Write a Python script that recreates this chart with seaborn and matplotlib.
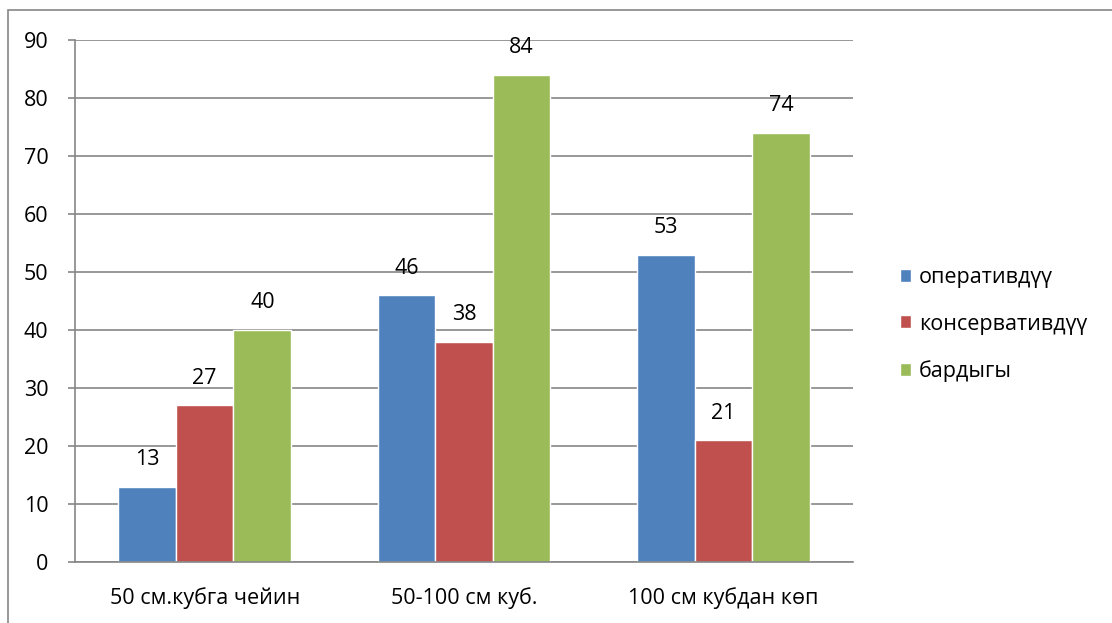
import pandas as pd
import matplotlib.pyplot as plt
import matplotlib.patches as mpatches
import seaborn as sns

# data
categories = ['50 см.кубга чейин', '50-100 см куб.', '100 см кубдан көп']
series = ['оперативдүү', 'консервативдүү', 'бардыгы']
operative = [13, 46, 53]
conservative = [27, 38, 21]
total = [40, 84, 74]
colors = ['#4F81BD', '#C0504D', '#9BBB59']

df = pd.DataFrame({
    'category': categories * 3,
    'series': [series[0]] * 3 + [series[1]] * 3 + [series[2]] * 3,
    'value': operative + conservative + total,
})

sns.set_style('white')
plt.rcParams['font.family'] = ['Open Sans', 'DejaVu Sans']
plt.rcParams['text.color'] = 'black'
plt.rcParams['xtick.color'] = 'black'
plt.rcParams['ytick.color'] = 'black'

fig = plt.figure(figsize=(11.12, 6.23), dpi=100)
ax = fig.add_axes([75 / 1112, 1 - 562 / 623, (853 - 75) / 1112, (562 - 40) / 623])

sns.barplot(data=df, x='category', y='value', hue='series', order=categories,
            hue_order=series, palette=colors, width=0.667, edgecolor='white',
            linewidth=1, saturation=1, ax=ax)

for cont in ax.containers:
    ax.bar_label(cont, fmt='%d', padding=12, fontsize=15.5, color='black')

ax.set_xlim(-0.5, 2.5)
ax.set_ylim(0, 90)
ax.set_yticks(range(0, 91, 10))
ax.grid(axis='y', color='#868686', linewidth=1.2)
ax.set_axisbelow(True)
ax.set_xlabel('')
ax.set_ylabel('')
for s in ['top', 'right']:
    ax.spines[s].set_visible(False)
for s in ['left', 'bottom']:
    ax.spines[s].set_color('#868686')
    ax.spines[s].set_linewidth(1.2)

ax.set_xticks([-0.5, 0.5, 1.5, 2.5], minor=True)
ax.tick_params(axis='x', which='major', length=0, labelsize=15.5, pad=18)
ax.tick_params(axis='x', which='minor', length=5, width=1.2, color='#868686', direction='out')
ax.tick_params(axis='y', length=5, width=1.2, color='#868686', labelcolor='black',
               direction='out', labelsize=15.5, pad=14, left=True)

leg = ax.legend(loc='center left', bbox_to_anchor=(1.035, 0.455), frameon=False,
                fontsize=15.5, handlelength=0.55, handleheight=0.55, labelspacing=1.2,
                handletextpad=0.35)

# outer chart frame
fig.patches.append(mpatches.Rectangle((8 / 1112, -0.1), 1.2, 1.1 - 10 / 623,
                                      transform=fig.transFigure, fill=False,
                                      edgecolor='#868686', linewidth=1.2))

fig.savefig('out.png', dpi=100)
